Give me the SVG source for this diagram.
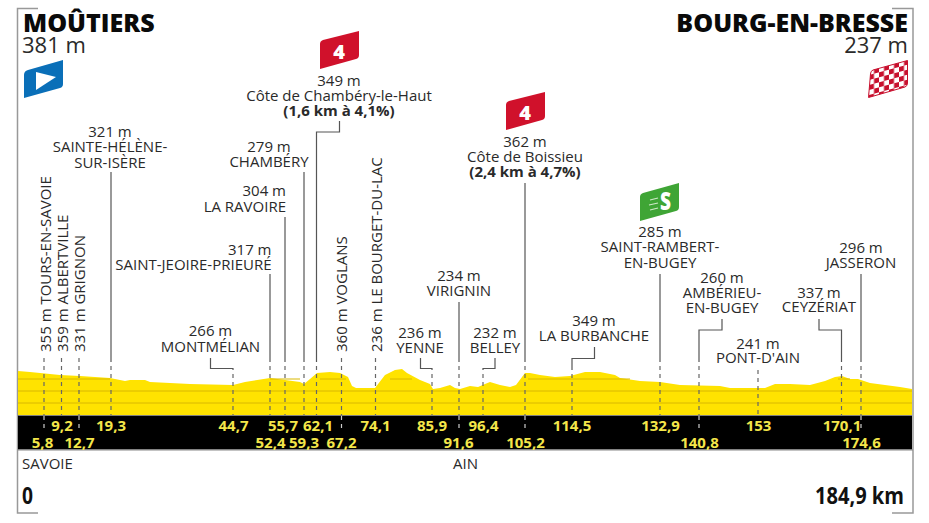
<svg xmlns="http://www.w3.org/2000/svg" width="929" height="523" viewBox="0 0 929 523">
<defs>
<pattern id="chk" width="10" height="10" patternUnits="userSpaceOnUse" patternTransform="translate(869 65) skewY(-15)">
<rect width="10" height="10" fill="#fff"/><rect width="5" height="5" fill="#c8102e"/><rect x="5" y="5" width="5" height="5" fill="#c8102e"/>
</pattern>
</defs>
<style>
text{font-family:"Open Sans","Noto Sans","Liberation Sans",sans-serif;fill:#2a2a2a;font-size:15px;text-anchor:middle}
.t{font-size:25px;font-weight:800;fill:#0a0a0a}
.a{font-size:22px;fill:#2a2a2a}
.b{font-weight:700}
.k{font-size:15px;font-weight:700;fill:#f4e64a}
.f{font-size:24px;font-weight:700;fill:#111}
.e{text-anchor:end}.s{text-anchor:start}
.l{fill:none;stroke:#555;stroke-width:1.2}
.d{fill:none;stroke:#666;stroke-width:1.2;stroke-dasharray:4 4}
.dw{fill:none;stroke:#ccc;stroke-width:1.2;stroke-dasharray:4 4}
.fr{fill:none;stroke:#999;stroke-width:1.5}
.g{stroke:#d9b800;stroke-width:1;fill:none}
.n{font-size:20px;font-weight:800;fill:#fff}
</style>
<g id="frame">
<path class="fr" d="M38 8.500H17.500V513H38"/>
<path class="fr" d="M892 8.500H913V513H892"/>
</g>
<g id="profile">
<path fill="#ffe300" d="M18 415V371L30 372L50 374L60 375L80 376L110 378L125 381L130 380L145 380L150 382L190 384L233 385L245 382L270 378L285 380L300 382L304 384L310 379L317 373L330 372L340 373L348 377L352 386L356 388L375 388L385 375L395 370L402 369L407 373L420 380L430 384L433 389L440 388L450 385L455 388L460 389L470 386L478 387L485 384L490 382L500 385L510 387L516 385L525 373L530 373L540 375L555 377L570 376L585 372L600 372L615 375L620 378L640 381L660 382L680 385L700 385.500L720 386L730 388L765 388L775 384L790 384L810 385L825 381L835 377L842 376L850 379L858 379L870 383L885 385L900 387L912 389V415Z"/>
<path class="g" d="M18 379H110M270 379H300M320 379H346M390 379H412M528 379H630M838 379H850M18 391H912M18 403H912"/>
<rect x="18" y="415.500" width="894" height="34" fill="#000"/>
<path d="M18 450H913" stroke="#888" stroke-width="1"/>
</g>
<g id="connectors">
<path class="l" d="M111 362V172"/>
<path class="l" d="M210.500 358V368.500H233V370"/>
<path class="l" d="M270 362V274"/><path class="l" d="M285 362V217"/><path class="l" d="M304 362V172"/>
<path class="l" d="M316.500 362V132H339.500V121"/>
<path class="l" d="M420.500 358V368.500H432V370"/>
<path class="l" d="M459 362V302"/>
<path class="l" d="M495 358V368.500H483V370"/>
<path class="l" d="M525 362V183"/>
<path class="l" d="M572 370V358.500H594.500V347"/>
<path class="l" d="M660 362V274"/>
<path class="l" d="M722 319V330H699V362"/>
<path class="l" d="M819 319V330H841.500V362"/><path class="l" d="M861 362V274"/>
<path class="d" d="M44 358V415M61.500 358V415M79 358V415M111 366V415M233 374V415M270 366V415M285 366V415M304 366V415M316.500 366V415M341.500 358V415M375.500 358V415M432 374V415M459 366V415M483 374V415M525 366V415M572 374V415M660 366V415M699 366V415M758 370V415M841.500 366V415M861 366V415"/>
<path class="dw" d="M44 416V432M79 416V432M341.500 416V432M459 416V432M525 416V432M699 416V432M861 416V432"/>
</g>
<g id="start"><text class="t s" x="23" y="32">MOÛTIERS</text><text class="a s" x="22" y="52.500">381 m</text>
<path fill="#0a6fb8" d="M24 75Q24 71 28 70L63 60V84Q63 87 60 88L24 98Z"/><path fill="#fff" d="M36 72L56 77L36 90Z"/></g>
<g id="finish"><text class="t e" x="908" y="32">BOURG-EN-BRESSE</text><text class="a e" x="908" y="52.500">237 m</text>
<path fill="url(#chk)" stroke="#c8102e" d="M870.500 74Q870.500 71 873 70L907.500 60.500V83Q907.500 86 905 87L868.500 97.500Z"/></g>
<g id="dist-start"><text class="f s" x="22" y="504" textLength="11" lengthAdjust="spacingAndGlyphs">0</text><text class="s" x="22" y="469">SAVOIE</text></g>
<g id="dist-end"><text class="f s" x="815" y="504" textLength="89" lengthAdjust="spacingAndGlyphs">184,9 km</text><text x="465.500" y="469">AIN</text></g>
<g id="tours"><text transform="translate(51 352) rotate(-90)" class="s">355 m TOURS-EN-SAVOIE</text></g>
<g id="albertville"><text transform="translate(68 352) rotate(-90)" class="s">359 m ALBERTVILLE</text></g>
<g id="grignon"><text transform="translate(85 352) rotate(-90)" class="s">331 m GRIGNON</text></g>
<g id="sainte"><text x="110" y="136.500">321 m</text><text x="110" y="152">SAINTE-HÉLÈNE-</text><text x="110" y="167.500">SUR-ISÈRE</text></g>
<g id="montmelian"><text x="210.500" y="336">266 m</text><text x="210.500" y="352">MONTMÉLIAN</text></g>
<g id="jeoire"><text class="e" x="271.500" y="255">317 m</text><text class="e" x="271.500" y="269.500">SAINT-JEOIRE-PRIEURÉ</text></g>
<g id="ravoire"><text class="e" x="286" y="196">304 m</text><text class="e" x="286" y="212">LA RAVOIRE</text></g>
<g id="chambery"><text x="269" y="151.500">279 m</text><text x="269" y="167">CHAMBÉRY</text></g>
<g id="cote1"><path fill="#d0112b" d="M320 44Q320 41 323 40L359 31V55Q359 58 356 59L320 69Z"/><text class="n" x="339" y="59">4</text>
<text x="339" y="86">349 m</text><text x="339" y="101">Côte de Chambéry-le-Haut</text><text class="b" x="339" y="116">(1,6 km à 4,1%)</text></g>
<g id="voglans"><text transform="translate(347 352) rotate(-90)" class="s">360 m VOGLANS</text></g>
<g id="bourget"><text transform="translate(382 352) rotate(-90)" class="s">236 m LE BOURGET-DU-LAC</text></g>
<g id="yenne"><text x="420" y="338">236 m</text><text x="420" y="353">YENNE</text></g>
<g id="virignin"><text x="459" y="281">234 m</text><text x="459" y="296">VIRIGNIN</text></g>
<g id="belley"><text x="495" y="338">232 m</text><text x="495" y="353">BELLEY</text></g>
<g id="cote2"><path fill="#d0112b" d="M506 105Q506 102 509 101L545 92V116Q545 119 542 120L506 130Z"/><text class="n" x="525" y="119.500">4</text>
<text x="525" y="147">362 m</text><text x="525" y="162">Côte de Boissieu</text><text class="b" x="525" y="177">(2,4 km à 4,7%)</text></g>
<g id="burbanche"><text x="594" y="326">349 m</text><text x="594" y="341">LA BURBANCHE</text></g>
<g id="rambert"><path fill="#3fa535" d="M640 197Q640 194 643 193L679 183V207Q679 210 676 211L640 221Z"/><path d="M650 200L658 198M649 205L658 203M650 210L658 208" stroke="#cfe8c8" stroke-width="1.200" fill="none"/><text class="n" x="665.500" y="210" style="font-size:24px" textLength="11" lengthAdjust="spacingAndGlyphs">S</text>
<text x="660" y="237">285 m</text><text x="660" y="252">SAINT-RAMBERT-</text><text x="660" y="268">EN-BUGEY</text></g>
<g id="amberieu"><text x="722" y="283">260 m</text><text x="722" y="298">AMBÉRIEU-</text><text x="722" y="313">EN-BUGEY</text></g>
<g id="pont"><text x="758" y="349">241 m</text><text x="758" y="363">PONT-D'AIN</text></g>
<g id="ceyzeriat"><text x="819" y="298">337 m</text><text x="819" y="312">CEYZÉRIAT</text></g>
<g id="jasseron"><text x="861" y="252.500">296 m</text><text x="861" y="268">JASSERON</text></g>
<g id="km">
<text class="k" x="62" y="431">9,2</text><text class="k" x="111" y="431">19,3</text><text class="k" x="233.500" y="431">44,7</text><text class="k" x="283" y="431">55,7</text><text class="k" x="318" y="431">62,1</text><text class="k" x="375.500" y="431">74,1</text><text class="k" x="432" y="431">85,9</text><text class="k" x="483.500" y="431">96,4</text><text class="k" x="572" y="431">114,5</text><text class="k" x="660.500" y="431">132,9</text><text class="k" x="758.500" y="431">153</text><text class="k" x="842" y="431">170,1</text>
<text class="k" x="42.500" y="448">5,8</text><text class="k" x="79.500" y="448">12,7</text><text class="k" x="270.500" y="448">52,4</text><text class="k" x="304" y="448">59,3</text><text class="k" x="341.500" y="448">67,2</text><text class="k" x="458.500" y="448">91,6</text><text class="k" x="525.500" y="448">105,2</text><text class="k" x="699.500" y="448">140,8</text><text class="k" x="861.500" y="448">174,6</text>
</g>
</svg>
